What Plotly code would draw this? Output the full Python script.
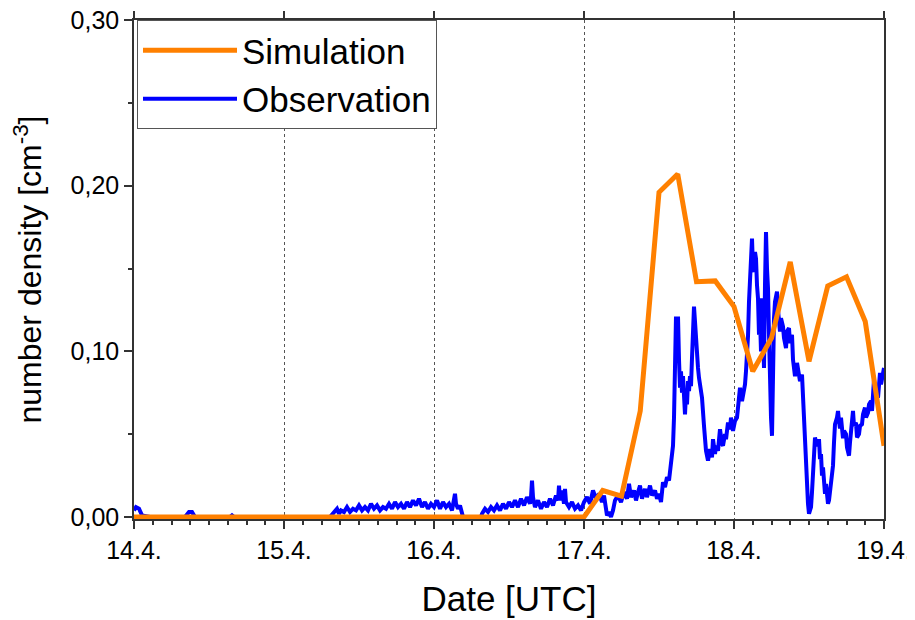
import plotly.graph_objects as go
from datetime import datetime, timedelta

base = datetime(2010, 4, 14)

# Simulation: hours since 14.4. 00 UTC, number density [cm^-3]
sim_hours = [0, 3, 6, 9, 12, 15, 18, 21, 24, 27, 30, 33, 36, 39, 42, 45, 48, 51, 54, 57,
             60, 63, 66, 69, 72, 75, 78, 81, 84, 87, 90, 93, 96, 99, 102, 105, 108, 111,
             114, 117, 120]
sim_vals = [0, 0, 0, 0, 0, 0, 0, 0, 0, 0, 0, 0, 0, 0, 0, 0, 0, 0, 0, 0,
            0, 0, 0, 0, 0, 0.016, 0.0126, 0.064, 0.196, 0.207, 0.142, 0.1425, 0.127, 0.088,
            0.108, 0.154, 0.094, 0.1395, 0.145, 0.118, 0.043]

# Observation: hours since 14.4. 00 UTC, number density [cm^-3]
obs_hours = [
    0, 0.32, 0.8, 1.28, 2.56, 8.16, 8.8, 9.28, 9.76, 15.36, 15.68, 16.0, 31.36,
    32.16, 32.48, 32.8, 33.12, 33.6, 34.08, 34.56, 35.04, 35.52, 36.0, 36.48, 36.96,
    37.44, 37.92, 38.4, 38.88, 39.36, 39.84, 40.32, 40.8, 41.28, 41.76, 42.24, 42.72,
    43.2, 43.68, 44.16, 44.64, 45.12, 45.6, 46.08, 46.56, 47.04, 47.52, 48.0, 48.48,
    48.96, 49.44, 49.92, 50.4, 50.88, 51.2, 51.36, 51.52, 51.84, 52.16, 52.48, 52.64,
    55.52,
    55.68, 56.16, 56.64, 57.12, 57.6, 58.08, 58.56, 59.04, 59.52, 60.0, 60.48, 60.96,
    61.44, 61.92, 62.4, 62.88, 63.36, 63.52, 63.68, 63.84, 64.16, 64.64, 65.12, 65.6,
    66.08, 66.56, 67.04, 67.52, 67.84, 68.0, 68.16, 68.48, 68.8, 68.96, 69.12, 69.6,
    70.08, 70.56, 71.04, 71.52, 72.0, 72.48, 72.96, 73.44, 73.92, 74.4, 74.88, 75.2,
    75.52, 75.68, 76.0, 76.32, 76.64, 76.96, 77.44, 77.92, 78.4, 78.88, 79.2, 79.52,
    80.0, 80.32, 80.64, 80.96, 81.28, 81.76, 82.08, 82.56, 82.88, 83.36, 83.68, 84.0,
    84.32, 84.64, 84.96, 85.28, 85.6, 85.92, 86.24, 86.4, 86.56, 86.72, 86.88, 87.04,
    87.2, 87.36, 87.52, 87.68, 87.84, 88.0, 88.16, 88.32, 88.48, 88.64, 88.8, 88.96,
    89.12, 89.28, 89.44, 89.6, 89.76, 89.92, 90.08, 90.24, 90.4, 90.56, 90.88, 91.2,
    91.52, 91.84, 92.16, 92.48, 92.64, 92.96, 93.12, 93.44, 93.76, 94.08, 94.24, 94.56,
    94.72, 95.04, 95.36, 95.52, 95.84, 96.16, 96.48, 96.8, 96.96, 97.28, 97.44, 97.76,
    97.92, 98.08, 98.24, 98.4, 98.56, 98.72, 98.88, 99.04, 99.2, 99.36, 99.52, 99.68,
    99.84, 100.0, 100.16, 100.32, 100.48, 100.64, 100.8, 100.96, 101.12, 101.28,
    101.44, 101.6, 101.76, 101.92, 102.08, 102.24, 102.4, 102.56, 102.88, 103.04,
    103.36, 103.52, 103.84, 104.0, 104.32, 104.48, 104.8, 104.96, 105.28, 105.44,
    105.76, 106.08, 106.24, 106.56, 106.88, 107.04, 107.2, 107.36, 107.52, 107.68,
    107.84, 108.0, 108.16, 108.32, 108.48, 108.64, 108.8, 108.96, 109.12, 109.44,
    109.6, 109.76, 109.92, 110.08, 110.24, 110.56, 110.72, 111.04, 111.2, 111.52,
    111.68, 111.84, 112.0, 112.16, 112.48, 112.64, 112.8, 112.96, 113.12, 113.44,
    113.6, 113.92, 114.08, 114.4, 114.56, 114.72, 114.88, 115.04, 115.2, 115.52,
    115.68, 116.0, 116.16, 116.48, 116.64, 116.96, 117.12, 117.44, 117.6, 117.92,
    118.08, 118.4, 118.56, 118.88, 119.04, 119.36, 119.52, 119.84, 120.0]
obs_vals = [
    0.004, 0.006, 0.005, 0.001, 0.0, 0.0, 0.003, 0.003, 0.0, 0.0, 0.001, 0.0, 0.0,
    0.003, 0.005, 0.002, 0.004, 0.003, 0.006, 0.003, 0.005, 0.004, 0.007, 0.004, 0.006,
    0.004, 0.008, 0.005, 0.007, 0.004, 0.006, 0.005, 0.008, 0.005, 0.009, 0.006, 0.008,
    0.005, 0.009, 0.006, 0.010, 0.007, 0.011, 0.006, 0.009, 0.005, 0.008, 0.006, 0.010,
    0.005, 0.009, 0.006, 0.008, 0.004, 0.009, 0.014, 0.008, 0.005, 0.007, 0.003, 0.0,
    0.0,
    0.002, 0.005, 0.003, 0.006, 0.004, 0.007, 0.004, 0.008, 0.005, 0.009, 0.006, 0.010,
    0.006, 0.011, 0.007, 0.012, 0.008, 0.012, 0.022, 0.012, 0.006, 0.010, 0.005, 0.009,
    0.006, 0.011, 0.007, 0.013, 0.010, 0.019, 0.010, 0.016, 0.008, 0.017, 0.009, 0.006,
    0.009, 0.005, 0.007, 0.004, 0.009, 0.012, 0.008, 0.016, 0.011, 0.014, 0.009, 0.013,
    0.006, 0.001, 0.003, 0.000, 0.004, 0.010, 0.013, 0.009, 0.015, 0.011, 0.020, 0.012,
    0.016, 0.010, 0.015, 0.019, 0.011, 0.017, 0.012, 0.019, 0.013, 0.016, 0.011, 0.014,
    0.009, 0.021, 0.018, 0.024, 0.022, 0.033, 0.043, 0.060, 0.085, 0.121, 0.110, 0.121,
    0.095, 0.078, 0.088, 0.075, 0.085, 0.070, 0.062, 0.075, 0.068, 0.082, 0.076, 0.085,
    0.079, 0.096, 0.110, 0.127, 0.118, 0.105, 0.100, 0.090, 0.084, 0.080, 0.072, 0.055,
    0.040, 0.034, 0.041, 0.036, 0.047, 0.038, 0.043, 0.040, 0.053, 0.044, 0.043, 0.050,
    0.047, 0.057, 0.053, 0.060, 0.052, 0.058, 0.060, 0.072, 0.078, 0.070, 0.073, 0.080,
    0.088, 0.098, 0.109, 0.130, 0.146, 0.155, 0.168, 0.150, 0.148, 0.160, 0.156, 0.140,
    0.132, 0.110, 0.120, 0.100, 0.132, 0.110, 0.090, 0.140, 0.172, 0.150,
    0.138, 0.110, 0.076, 0.060, 0.049, 0.090, 0.120, 0.130, 0.136, 0.125,
    0.112, 0.120, 0.115, 0.108, 0.102, 0.112, 0.114, 0.105, 0.110, 0.095,
    0.085, 0.093, 0.088, 0.082, 0.086, 0.072, 0.060, 0.0475, 0.027, 0.015,
    0.008, 0.002, 0.004, 0.006, 0.015, 0.025, 0.040, 0.048, 0.045, 0.043,
    0.047, 0.035, 0.038, 0.025, 0.030, 0.014, 0.020, 0.008, 0.010, 0.020,
    0.025, 0.031, 0.045, 0.056, 0.060, 0.064, 0.058, 0.0535, 0.060, 0.0475,
    0.052, 0.050, 0.042, 0.037, 0.045, 0.050, 0.058, 0.064, 0.055, 0.057,
    0.048, 0.050, 0.055, 0.056, 0.062, 0.066, 0.060, 0.063, 0.068, 0.070,
    0.064, 0.083, 0.075, 0.079, 0.072, 0.087, 0.080, 0.088, 0.090]

x_tick_days = [0, 1, 2, 3, 4, 5]
y_ticks = [0.0, 0.10, 0.20, 0.30]

sim_t = [base + timedelta(hours=h) for h in sim_hours]
obs_t = [base + timedelta(hours=h) for h in obs_hours]
xt = [base + timedelta(days=d) for d in x_tick_days]

FONT = "Liberation Sans, Arial, sans-serif"

fig = go.Figure()
fig.add_trace(go.Scatter(x=obs_t, y=obs_vals, mode="lines", name="Observation",
                         line=dict(color="#0000FF", width=4)))
fig.add_trace(go.Scatter(x=sim_t, y=sim_vals, mode="lines", name="Simulation",
                         line=dict(color="#FF8000", width=5)))
# invisible helper so the top axis (major ticks only) is drawn
fig.add_trace(go.Scatter(x=sim_t, y=sim_vals, xaxis="x2", mode="lines",
                         line=dict(width=0), opacity=0, showlegend=False,
                         hoverinfo="skip"))

# page body adds an 8 px offset, so the figure is 8 px smaller on each axis
fig.update_layout(
    width=907, height=612,
    margin=dict(l=126, r=31, t=12, b=101),
    paper_bgcolor="white", plot_bgcolor="white",
    separators=",.",
    font=dict(family=FONT, color="black", size=25),
    legend=dict(x=0.004, y=1, xanchor="left", yanchor="top",
                bgcolor="white", bordercolor="#555", borderwidth=1,
                font=dict(size=35), itemwidth=94, traceorder="reversed",
                tracegroupgap=0),
    showlegend=True,
    xaxis2=dict(type="date", overlaying="x", side="top", range=[xt[0], xt[-1]],
                tickvals=xt, ticks="outside", ticklen=8, tickwidth=1.5, tickcolor="#333",
                showticklabels=False, showgrid=False, zeroline=False, showline=False,
                automargin=False),
)
fig.layout.xaxis.update(
    type="date", range=[xt[0], xt[-1]], tickvals=xt, tickformat="%-d.%-m.",
    ticks="outside", ticklen=8, tickwidth=1.5, tickcolor="#333",
    showline=True, linecolor="#333", linewidth=1.5, mirror=True,
    showgrid=True, gridcolor="#555", griddash="dot", gridwidth=1,
    zeroline=False, layer="below traces", automargin=False,
    ticklabeloverflow="allow",
    minor=dict(dtick=3 * 3600 * 1000, ticks="outside", ticklen=4, tickcolor="#333", showgrid=False),
    tickfont=dict(size=25),
    title=dict(text="Date [UTC]", font=dict(size=35), standoff=24),
)
fig.update_yaxes(
    range=[-0.0012, 0.30], tickvals=y_ticks, tickformat=".2f",
    ticks="outside", ticklen=8, tickwidth=1.5, tickcolor="#333",
    showline=True, linecolor="#333", linewidth=1.5, mirror=True,
    showgrid=False, zeroline=False, layer="below traces", automargin=False,
    ticklabeloverflow="allow",
    minor=dict(dtick=0.05, tick0=0, ticks="outside", ticklen=4, tickcolor="#333", showgrid=False),
    tickfont=dict(size=25),
    title=dict(text="number density [cm<sup>-3</sup>]", font=dict(size=32), standoff=30),
)

fig.write_html("out.html")
